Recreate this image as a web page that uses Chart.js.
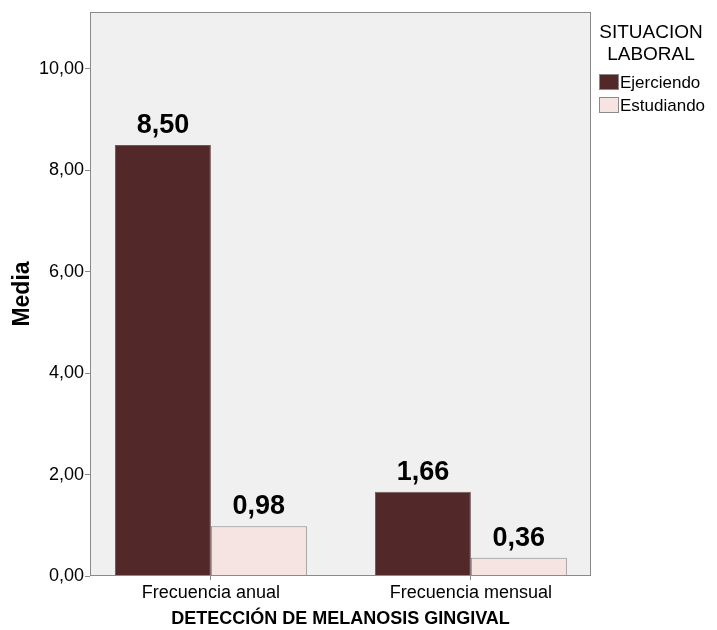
<!DOCTYPE html>
<html lang="es">
<head>
  <meta charset="UTF-8">
  <title>Detección de melanosis gingival</title>
  <script src="https://cdn.jsdelivr.net/npm/chart.js"></script>
  <style>
    html, body { margin: 0; padding: 0; background: #fff; }
    #wrap { width: 717px; height: 630px; position: relative; }
  </style>
</head>
<body>
  <div id="wrap"><canvas id="chart"></canvas></div>

  <script>
    const categories = ['Frecuencia anual', 'Frecuencia mensual'];
    const groups = ['Ejerciendo', 'Estudiando'];
    const ejerciendo = [8.50, 1.66];
    const estudiando = [0.98, 0.36];
    const yTicks = [0, 2, 4, 6, 8, 10];

    const FONT = 'Arial, "Liberation Sans", sans-serif';
    const fmt = v => v.toFixed(2).replace('.', ',');

    // spread the two categories a bit wider than the default half-slot offset
    const categorySpread = {
      id: 'categorySpread',
      afterLayout(chart) {
        const x = chart.scales.x;
        x._startValue = -0.465;
        x._valueRange = 1.927;
      }
    };

    // plot background + frame
    const plotFrame = {
      id: 'plotFrame',
      beforeDatasetsDraw(chart) {
        const { ctx, chartArea: a } = chart;
        ctx.save();
        ctx.fillStyle = '#f0f0f0';
        ctx.fillRect(a.left, a.top, a.right - a.left, a.bottom - a.top);
        ctx.restore();
      },
      afterDatasetsDraw(chart) {
        const { ctx, chartArea: a } = chart;
        ctx.save();
        ctx.strokeStyle = '#8a8a8a';
        ctx.lineWidth = 1;
        ctx.strokeRect(a.left + 0.5, a.top + 0.5, a.right - a.left - 1, a.bottom - a.top - 1);
        ctx.restore();
      }
    };

    // value labels above the bars
    const valueLabels = {
      id: 'valueLabels',
      afterDatasetsDraw(chart) {
        const { ctx } = chart;
        ctx.save();
        ctx.font = 'bold 27px ' + FONT;
        ctx.fillStyle = '#000';
        ctx.textAlign = 'center';
        ctx.textBaseline = 'alphabetic';
        chart.data.datasets.forEach((ds, i) => {
          chart.getDatasetMeta(i).data.forEach((bar, j) => {
            ctx.fillText(fmt(ds.data[j]), bar.x, bar.y - 12);
          });
        });
        ctx.restore();
      }
    };

    // legend block on the right
    const sideLegend = {
      id: 'sideLegend',
      afterDraw(chart) {
        const { ctx } = chart;
        ctx.save();
        ctx.fillStyle = '#000';
        ctx.textAlign = 'center';
        ctx.textBaseline = 'middle';
        ctx.font = '19px ' + FONT;
        ctx.fillText('SITUACION', 651, 33);
        ctx.fillText('LABORAL', 651, 55);
        ctx.textAlign = 'left';
        ctx.font = '17px ' + FONT;
        chart.data.datasets.forEach((ds, i) => {
          const y = 82 + i * 23;
          ctx.fillStyle = ds.backgroundColor;
          ctx.fillRect(599, y - 8, 20, 16);
          ctx.strokeStyle = '#8a8a8a';
          ctx.lineWidth = 1;
          ctx.strokeRect(599.5, y - 7.5, 19, 15);
          ctx.fillStyle = '#000';
          ctx.fillText(ds.label, 620, y + 1);
        });
        ctx.restore();
      }
    };

    new Chart(document.getElementById('chart'), {
      type: 'bar',
      data: {
        labels: categories,
        datasets: [
          { label: groups[0], data: ejerciendo, backgroundColor: '#532828', borderColor: '#6e5858', borderWidth: 1 },
          { label: groups[1], data: estudiando, backgroundColor: '#f5e4e1', borderColor: '#8a8a8a', borderWidth: 1 }
        ]
      },
      options: {
        responsive: true,
        maintainAspectRatio: false,
        animation: false,
        datasets: { bar: { categoryPercentage: 0.738, barPercentage: 1.0 } },
        layout: { padding: { top: 12, right: 126, left: 9, bottom: 0 } },
        plugins: {
          legend: { display: false },
          tooltip: { enabled: false }
        },
        scales: {
          x: {
            grid: { display: true, drawOnChartArea: false, offset: false, tickLength: 4, color: '#8a8a8a' },
            border: { display: false },
            ticks: { color: '#000', font: { family: FONT, size: 18 }, padding: 2 },
            title: { display: true, text: 'DETECCIÓN DE MELANOSIS GINGIVAL', color: '#000',
                     font: { family: FONT, size: 18, weight: 'bold' }, padding: { top: 2, bottom: 0 } },
            afterFit(scale) { scale.height = 54; }
          },
          y: {
            min: 0,
            max: 11.12,
            afterBuildTicks(scale) { scale.ticks = yTicks.map(v => ({ value: v })); },
            grid: { display: true, drawOnChartArea: false, tickLength: 5, color: '#8a8a8a' },
            border: { display: false },
            ticks: { color: '#000', font: { family: FONT, size: 18 }, padding: 1, callback: v => fmt(v) },
            title: { display: true, text: 'Media', color: '#000',
                     font: { family: FONT, size: 23, weight: 'bold' }, padding: 0 },
            afterFit(scale) { scale.width = 81; }
          }
        }
      },
      plugins: [categorySpread, plotFrame, valueLabels, sideLegend]
    });
  </script>
</body>
</html>
